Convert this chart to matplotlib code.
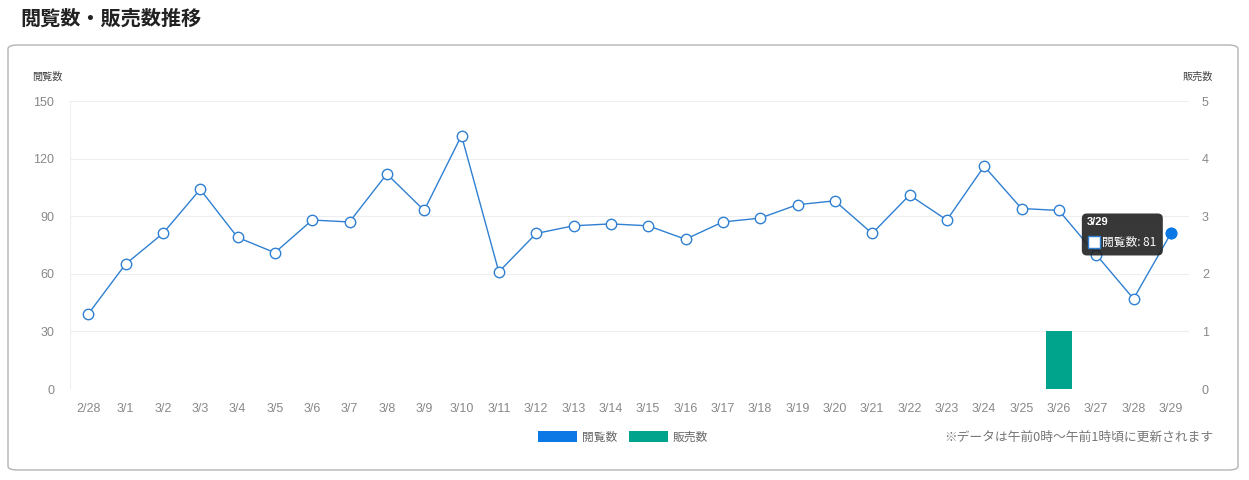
import matplotlib
matplotlib.use("Agg")
import matplotlib.pyplot as plt
from matplotlib.patches import FancyBboxPatch, Patch
from matplotlib.transforms import IdentityTransform

plt.rcParams['font.family'] = ['Noto Sans CJK JP', 'DejaVu Sans']

# データ
dates = ['2/28', '3/1', '3/2', '3/3', '3/4', '3/5', '3/6', '3/7', '3/8', '3/9',
         '3/10', '3/11', '3/12', '3/13', '3/14', '3/15', '3/16', '3/17', '3/18', '3/19',
         '3/20', '3/21', '3/22', '3/23', '3/24', '3/25', '3/26', '3/27', '3/28', '3/29']
views = [39, 65, 81, 104, 79, 71, 88, 87, 112, 93,
         132, 61, 81, 85, 86, 85, 78, 87, 89, 96,
         98, 81, 101, 88, 116, 94, 93, 70, 47, 81]
sales = [0, 0, 0, 0, 0, 0, 0, 0, 0, 0,
         0, 0, 0, 0, 0, 0, 0, 0, 0, 0,
         0, 0, 0, 0, 0, 0, 1, 0, 0, 0]
views_ticks = [0, 30, 60, 90, 120, 150]
sales_ticks = [0, 1, 2, 3, 4, 5]

line_c = '#2f80d2'
blue_c = '#0b78e6'
green_c = '#00a38b'
tick_c = '#888888'
grid_c = '#eeeeee'
num_font = ['Liberation Sans', 'Noto Sans CJK JP']

W, H = 1249, 480
fig = plt.figure(figsize=(W / 100, H / 100), dpi=100)

# 枠
frame = FancyBboxPatch((8 / W, 10 / H), 1230 / W, 425 / H,
                       boxstyle='round,pad=0,rounding_size=0.008',
                       transform=fig.transFigure, fc='none', ec='#b3b3b3', lw=1, zorder=-1)
fig.patches.append(frame)

fig.text(20 / W, 1 - 18 / H, '閲覧数・販売数推移', fontsize=14.5, fontweight='bold',
         color='#222222', va='center', ha='left')

ax = fig.add_axes([69.5 / W, 91 / H, 1120 / W, 288 / H])
ax2 = ax.twinx()
ax.set_zorder(ax2.get_zorder() + 1)
ax.patch.set_visible(False)

x = list(range(len(dates)))

ax2.bar(x, sales, width=0.7, color=green_c, zorder=2)
ax2.set_ylim(0, 5)
ax2.set_yticks(sales_ticks)

ax.plot(x, views, color=line_c, lw=1, marker='o', ms=7.5, mfc='white',
        mec=line_c, mew=1, zorder=3)
ax.plot([x[-1]], [views[-1]], marker='o', ms=7.5, color=blue_c, zorder=4)
ax.set_ylim(0, 150)
ax.set_yticks(views_ticks)
ax.set_xlim(-0.5, len(dates) - 0.5)
ax.set_xticks(x)
ax.set_xticklabels(dates)

for a in (ax, ax2):
    for s in a.spines.values():
        s.set_visible(False)
    a.tick_params(length=0, labelsize=9, labelcolor=tick_c)
    for lab in a.get_xticklabels() + a.get_yticklabels():
        lab.set_family(num_font)
ax.tick_params(axis='y', pad=11)
ax.tick_params(axis='x', pad=10)
ax2.tick_params(axis='y', pad=9)

for t in views_ticks:
    ax2.axhline(t / 30, color=grid_c, lw=0.8, zorder=0)
ax2.axvline(-0.5, color=grid_c, lw=0.8, zorder=0)
ax2.axvline(len(dates) - 0.5, color=grid_c, lw=0.8, zorder=0)

fig.text(47 / W, 1 - 77 / H, '閲覧数', fontsize=7.3, color='#444444', ha='center', va='center')
fig.text(1198 / W, 1 - 77 / H, '販売数', fontsize=7.3, color='#444444', ha='center', va='center')

# ツールチップ
fig.canvas.draw()
px, py = ax.transData.transform((x[-1], views[-1]))
tip = FancyBboxPatch((px - 89, py - 22), 81, 42,
                     boxstyle='round,pad=0,rounding_size=5',
                     transform=IdentityTransform(), fc='#222222', ec='none', alpha=0.9,
                     zorder=10, clip_on=False)
ax.add_patch(tip)
ax.annotate(dates[-1], xy=(x[-1], views[-1]), xytext=(-84, 11), textcoords='offset pixels',
            ha='left', va='center', color='white', fontsize=8, fontweight='bold', zorder=11,
            annotation_clip=False, family=num_font)
sq = FancyBboxPatch((px - 83, py - 15), 12, 12, boxstyle='square,pad=0',
                    transform=IdentityTransform(), fc='white', ec=line_c, lw=1, zorder=11,
                    clip_on=False)
ax.add_patch(sq)
ax.annotate('閲覧数: %d' % views[-1], xy=(x[-1], views[-1]), xytext=(-69, -9),
            textcoords='offset pixels', ha='left', va='center', color='white', fontsize=8.5,
            zorder=11, annotation_clip=False)

handles = [Patch(fc=blue_c, ec='none', label='閲覧数'),
           Patch(fc=green_c, ec='none', label='販売数')]
fig.legend(handles=handles, loc='center', bbox_to_anchor=(623 / W, 1 - 437 / H), ncol=2,
           frameon=False, fontsize=8.5, handlelength=3.3, handleheight=1.0,
           handletextpad=0.4, columnspacing=1.0, labelcolor='#666666')

fig.text(1213 / W, 1 - 437 / H, '※データは午前0時〜午前1時頃に更新されます', fontsize=9.2,
         color='#777777', ha='right', va='center')

fig.savefig('out.png', dpi=100)
